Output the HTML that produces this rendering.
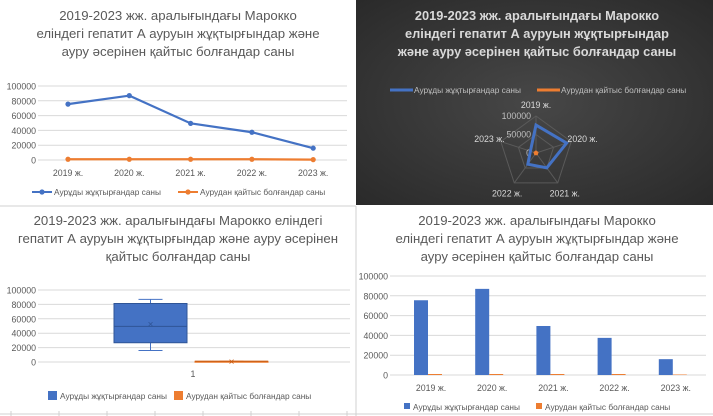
<!DOCTYPE html>
<html><head><meta charset="utf-8"><style>
body{margin:0;background:#fff;}
svg{display:block;font-family:"Liberation Sans",sans-serif;}
</style></head><body>
<svg id="s" width="713" height="416" viewBox="0 0 713 416">
<defs><radialGradient id="dg" cx="50%" cy="50%" r="70%"><stop offset="0" stop-color="#474747"/><stop offset="1" stop-color="#2a2a2a"/></radialGradient></defs>
<rect x="0" y="0" width="713" height="416" fill="#fff"/>
<rect x="356" y="0" width="357" height="205" fill="url(#dg)"/>
<line x1="0" y1="206" x2="356" y2="206" stroke="#d0d0d0"/>
<line x1="356" y1="206" x2="356" y2="416" stroke="#d0d0d0"/>
<line x1="0" y1="414" x2="713" y2="414" stroke="#d0d0d0"/>
<g id="titles" font-size="13.2" fill="#595959" text-anchor="middle">
<text x="178" y="20">2019-2023 жж. аралығындағы Марокко</text>
<text x="178" y="38">еліндегі гепатит А ауруын жұқтырғындар және</text>
<text x="178" y="56">ауру әсерінен қайтыс болғандар саны</text>
<g font-weight="bold" fill="#d9d9d9" font-size="12.8">
<text x="537" y="20">2019-2023 жж. аралығындағы Марокко</text>
<text x="537" y="38">еліндегі гепатит А ауруын жұқтырғындар</text>
<text x="537" y="56">және ауру әсерінен қайтыс болғандар саны</text>
</g>
<text x="178" y="225">2019-2023 жж. аралығындағы Марокко еліндегі</text>
<text x="178" y="243">гепатит А ауруын жұқтырғындар және ауру әсерінен</text>
<text x="178" y="261">қайтыс болғандар саны</text>
<text x="537" y="225">2019-2023 жж. аралығындағы Марокко</text>
<text x="537" y="243">еліндегі гепатит А ауруын жұқтырғындар және</text>
<text x="537" y="261">ауру әсерінен қайтыс болғандар саны</text>
</g>
<g id="g"></g>
</svg>
<script>
const categories=["2019 ж.","2020 ж.","2021 ж.","2022 ж.","2023 ж."];
const infected=[75500,87000,49500,37500,16000];
const deaths=[1000,1000,1000,1000,500];
const yTicks=[0,20000,40000,60000,80000,100000];
const seriesNames=["Аурұды жұқтырғандар саны","Аурудан қайтыс болғандар саны"];
const BLUE="#4472c4",ORANGE="#ed7d31";
const NS="http://www.w3.org/2000/svg";
const G=document.getElementById('g');
function mk(t,a,p){const e=document.createElementNS(NS,t);for(const k in a)e.setAttribute(k,a[k]);(p||G).appendChild(e);return e;}
function txt(x,y,s,sz,fill,anchor){const e=mk('text',{x:x,y:y,'font-size':sz,fill:fill,'text-anchor':anchor||'start'});e.textContent=s;return e;}
function axis(y0,y1,x0,x1,lblX){const f=v=>y0-(v/100000)*(y0-y1);
 yTicks.forEach(v=>{const l=mk('line',{x1:x0,x2:x1,y1:f(v),y2:f(v),stroke:'#d9d9d9'});
 
 const t=txt(lblX,f(v)+3.5,String(v),8.8,'#595959','end');});return f;}
// line chart
{const y=axis(160,86,38,347,36);const x=i=>68+i*61.3;
 categories.forEach((c,i)=>{const t=txt(x(i),176,c,8.8,'#595959','middle');});
 [[infected,BLUE],[deaths,ORANGE]].forEach(([d,col],si)=>{
  const p=mk('polyline',{points:d.map((v,i)=>x(i)+','+y(v)).join(' '),fill:'none',stroke:col,'stroke-width':2.2});
  
  d.forEach((v,i)=>{const c=mk('circle',{cx:x(i),cy:y(v),r:2.6,fill:col});});});
 [[32,BLUE,seriesNames[0]],[178,ORANGE,seriesNames[1]]].forEach(([lx,col,n])=>{
  const l=mk('line',{x1:lx,x2:lx+20,y1:192,y2:192,stroke:col,'stroke-width':2});
  mk('circle',{cx:lx+10,cy:192,r:2.6,fill:col});
  const t=txt(lx+22,195,n,8.3,'#595959');});}
// radar
{const cx=536,cy=153,R=37;const ang=i=>-Math.PI/2+i*2*Math.PI/5;
 const pt=(i,r)=>[cx+r*Math.cos(ang(i)),cy+r*Math.sin(ang(i))];
 [0.5,1].forEach(f=>{const p=mk('polygon',{points:categories.map((c,i)=>pt(i,R*f).join(',')).join(' '),fill:'none',stroke:'#5a5a5a'});});
 categories.forEach((c,i)=>{mk('line',{x1:cx,y1:cy,x2:pt(i,R)[0],y2:pt(i,R)[1],stroke:'#5a5a5a'});
  const [lx,ly]=pt(i,R+12);const t=txt(lx,ly+4,c,8.8,'#d9d9d9','middle');});
 [[0,'0'],[50000,'50000'],[100000,'100000']].forEach(([v,s])=>{const t=txt(cx-5,cy-R*v/100000+3,s,8.8,'#bfbfbf','end');});
 const b=mk('polygon',{points:infected.map((v,i)=>pt(i,R*v/100000).join(',')).join(' '),fill:'none',stroke:BLUE,'stroke-width':3,'stroke-linejoin':'miter'});
 
 const o=mk('polygon',{points:deaths.map((v,i)=>pt(i,Math.max(R*v/100000,1.5)).join(',')).join(' '),fill:ORANGE,stroke:ORANGE,'stroke-width':2});
 
 [[390,BLUE,seriesNames[0]],[537,ORANGE,seriesNames[1]]].forEach(([lx,col,n])=>{
  const l=mk('line',{x1:lx,x2:lx+23,y1:90,y2:90,stroke:col,'stroke-width':3});
  const t=txt(lx+24,93,n,8.3,'#bfbfbf');});}
// box plot
{const y=axis(362,290,38,350,36);
 function stats(d){const s=[...d].sort((a,b)=>a-b),n=s.length;const q=p=>{const pos=p*(n+1)-1;const lo=Math.floor(pos),f=pos-lo;return s[Math.max(0,lo)]+(s[Math.min(n-1,lo+1)]-s[Math.max(0,lo)])*f;};
  return {min:s[0],max:s[n-1],q1:q(.25),q3:q(.75),med:q(.5),mean:d.reduce((a,b)=>a+b,0)/n};}
 [[infected,BLUE,114,'box-infected'],[deaths,ORANGE,195,'box-deaths']].forEach(([d,col,x0,nm])=>{const s=stats(d);const w=73,mx=x0+w/2;
  mk('line',{x1:mx,x2:mx,y1:y(s.max),y2:y(s.q3),stroke:col});mk('line',{x1:mx,x2:mx,y1:y(s.q1),y2:y(s.min),stroke:col});
  mk('line',{x1:mx-12,x2:mx+12,y1:y(s.max),y2:y(s.max),stroke:col});mk('line',{x1:mx-12,x2:mx+12,y1:y(s.min),y2:y(s.min),stroke:col});
  const r=mk('rect',{x:x0,y:y(s.q3),width:w,height:Math.max(1,y(s.q1)-y(s.q3)),fill:col,stroke:col==BLUE?'#2f5597':col});
  
  mk('line',{x1:x0,x2:x0+w,y1:y(s.med),y2:y(s.med),stroke:col==BLUE?'#2f5597':'#c55a11'});
  const m=txt(mx,y(s.mean)+3.5,'×',10,col==BLUE?'#2f5597':'#c55a11','middle');});
 const t=txt(193,377,'1',8.8,'#595959','middle');
 [[48,BLUE,seriesNames[0]],[174,ORANGE,seriesNames[1]]].forEach(([lx,col,n])=>{
  const r=mk('rect',{x:lx,y:391,width:9,height:9,fill:col});
  const t=txt(lx+12,399,n,8.3,'#595959');});
 for(let i=0;i<8;i++)mk('line',{x1:11+i*48,x2:11+i*48,y1:411,y2:416,stroke:'#d0d0d0'});}
// bar chart
{const y=axis(375,276,390,706,388);const x=i=>431+i*61.2;
 categories.forEach((c,i)=>{const t=txt(x(i),391,c,8.8,'#595959','middle');
  const r=mk('rect',{x:x(i)-17,y:y(infected[i]),width:14,height:375-y(infected[i]),fill:BLUE});
  const o=mk('rect',{x:x(i)-3,y:y(deaths[i]),width:14,height:375-y(deaths[i]),fill:ORANGE});});
 [[404,BLUE,seriesNames[0]],[536,ORANGE,seriesNames[1]]].forEach(([lx,col,n])=>{
  const r=mk('rect',{x:lx,y:403,width:6,height:6,fill:col});
  const t=txt(lx+9,410,n,8.3,'#595959');});}
</script>
</body></html>
